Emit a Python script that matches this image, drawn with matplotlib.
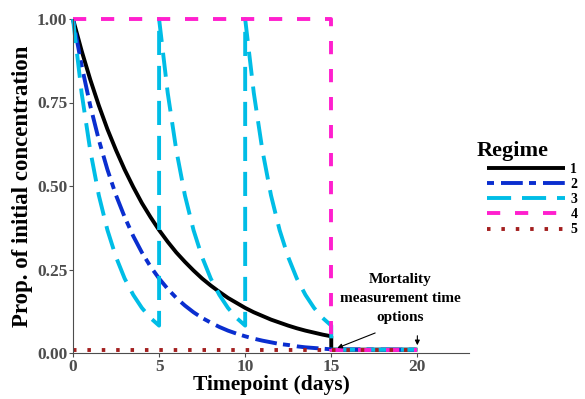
import numpy as np
import matplotlib.pyplot as plt

# values, every half day
days = np.arange(0, 15.5, 0.5)

regime1 = [1.000, 0.905, 0.819, 0.741, 0.670, 0.607, 0.549, 0.497, 0.449, 0.407, 0.368,
           0.333, 0.301, 0.273, 0.247, 0.223, 0.202, 0.183, 0.165, 0.150, 0.135,
           0.122, 0.111, 0.100, 0.091, 0.082, 0.074, 0.067, 0.061, 0.055, 0.050]
regime2 = [1.000, 0.861, 0.741, 0.638, 0.549, 0.472, 0.407, 0.350, 0.301, 0.259, 0.223,
           0.192, 0.165, 0.142, 0.122, 0.105, 0.091, 0.078, 0.067, 0.058, 0.050,
           0.043, 0.037, 0.032, 0.027, 0.024, 0.020, 0.017, 0.015, 0.013, 0.011]
# regime 3 is re-dosed every 5 days: one 5-day cycle
cycle_days = np.arange(0, 5.5, 0.5)
regime3_cycle = [1.000, 0.779, 0.607, 0.472, 0.368, 0.287, 0.223, 0.174, 0.135, 0.105, 0.082]
dose_days = [0, 5, 10]
regime4_level = 1.00
trough = 0.01          # level after day 15 (and regime 5 throughout)
end_day = 20

colors = {'1': 'black', '2': '#0a2ecf', '3': '#00bde6', '4': '#ff1fce', '5': '#a31f1f'}
dashes = {'1': None, '2': (1.8, 1.8, 5.6, 1.6), '3': (6.2, 2.8), '4': (3.4, 3.8), '5': (0.9, 2.8)}

# build x/y for each regime
x1 = list(days) + [15, end_day]
y1 = regime1 + [trough, trough]
x2 = list(days) + [end_day]
y2 = regime2 + [trough]
x3, y3 = [], []
for d in dose_days:
    x3 += [d + c for c in cycle_days]
    y3 += regime3_cycle
x3 += [15, end_day]
y3 += [trough, trough]
x4 = [0, 15, 15, end_day]
y4 = [regime4_level, regime4_level, trough, trough]
x5 = [0, end_day]
y5 = [trough, trough]

series = {'1': (x1, y1), '2': (x2, y2), '3': (x3, y3), '4': (x4, y4), '5': (x5, y5)}

plt.rcParams['font.family'] = ['Liberation Serif', 'DejaVu Serif']
plt.rcParams['font.weight'] = 'bold'

fig = plt.figure(figsize=(5.85, 3.99), dpi=100)
ax = fig.add_axes([73 / 585, 1 - 353 / 399, (469 - 73) / 585, (353 - 19) / 399])

lw = 2.8
for k, (x, y) in series.items():
    line, = ax.plot(x, y, color=colors[k], lw=lw, label=k, clip_on=False,
                    solid_capstyle='butt', dash_capstyle='butt', solid_joinstyle='round')
    if dashes[k] is not None:
        line.set_dashes(dashes[k])

ax.set_xlim(0, 23)
ax.set_ylim(0, 1)
ax.set_xticks([0, 5, 10, 15, 20])
ax.set_yticks([0, 0.25, 0.5, 0.75, 1.0])
ax.set_yticklabels(['0.00', '0.25', '0.50', '0.75', '1.00'])
grey = '#4d4d4d'
for s in ['top', 'right']:
    ax.spines[s].set_visible(False)
for s in ['left', 'bottom']:
    ax.spines[s].set_color(grey)
    ax.spines[s].set_linewidth(0.8)
ax.tick_params(colors=grey, labelsize=12.5, length=3, width=0.8, pad=1)
for lab in ax.get_xticklabels() + ax.get_yticklabels():
    lab.set_fontweight('bold')

ax.set_xlabel('Timepoint (days)', fontsize=15.5, fontweight='bold', labelpad=0)
ax.set_ylabel('Prop. of initial concentration', fontsize=16.5, fontweight='bold', labelpad=3)

ax.text(19.0, 0.162, 'Mortality\nmeasurement time\noptions', ha='center', va='center',
        fontsize=11, fontweight='bold', linespacing=1.6)
ax.annotate('', xy=(15.2, 0.012), xytext=(17.7, 0.063),
            arrowprops=dict(arrowstyle='-|>', color='black', lw=0.8, mutation_scale=7))
ax.annotate('', xy=(20.0, 0.015), xytext=(20.0, 0.06),
            arrowprops=dict(arrowstyle='-|>', color='black', lw=0.8, mutation_scale=7))

leg = ax.legend(loc='upper left', bbox_to_anchor=(487 / 585, 1 - 141 / 399),
                bbox_transform=fig.transFigure, frameon=False, prop={'size': 10, 'weight': 'bold'},
                handlelength=5.6, handletextpad=0.4, labelspacing=0.15,
                title='Regime', title_fontproperties={'size': 16, 'weight': 'bold'},
                alignment='left', borderpad=0, borderaxespad=0)
leg._legend_box.align = 'left'
leg.get_title().set_position((-10, 0))

fig.savefig('out.png', dpi=100)
